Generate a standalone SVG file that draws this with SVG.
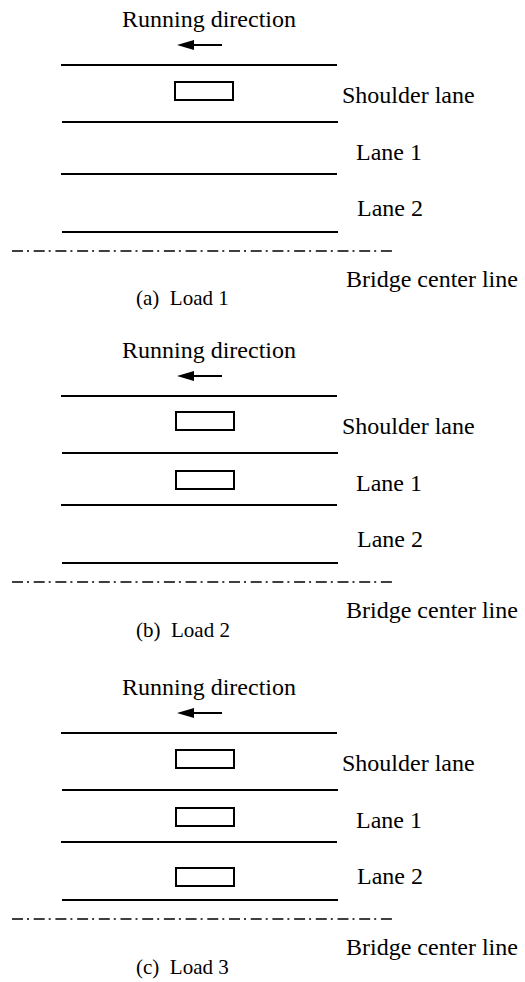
<svg xmlns="http://www.w3.org/2000/svg" width="525" height="982" viewBox="0 0 525 982">
  <style>
    .lbl { font-family: "Liberation Serif", "Times New Roman", serif; font-size: 24px; fill: #000; }
    .cap { font-family: "Liberation Serif", "Times New Roman", serif; font-size: 21px; fill: #000; white-space: pre; }
    .edge { stroke: #000; stroke-width: 2; fill: none; }
    .car { stroke: #000; stroke-width: 2; fill: #fff; }
    .axis { stroke: #000; stroke-width: 1.5; fill: none; stroke-dasharray: 11 4 2 4.7; }
  </style>
  <defs>
    <!-- Shared road cross-section: direction label, lane edges, lane labels, centre line -->
    <g id="road">
      <text class="lbl" x="122" y="27">Running direction</text>
      <line x1="222" y1="45" x2="190" y2="45" stroke="#000" stroke-width="2"/>
      <polygon points="177,45 194,40 194,50" fill="#000"/>
      <line class="edge" x1="61" y1="65" x2="337" y2="65"/>
      <line class="edge" x1="62" y1="122" x2="338" y2="122"/>
      <line class="edge" x1="61" y1="174" x2="337" y2="174"/>
      <line class="edge" x1="62" y1="232" x2="338" y2="232"/>
      <line class="axis" x1="12" y1="251" x2="393" y2="251"/>
      <text class="lbl" x="342" y="103">Shoulder lane</text>
      <text class="lbl" x="356" y="160">Lane 1</text>
      <text class="lbl" x="357" y="216">Lane 2</text>
      <text class="lbl" x="346" y="287">Bridge center line</text>
    </g>
  </defs>

  <!-- (a) Load 1 -->
  <g id="load1">
    <use href="#road"/>
    <rect class="car" x="175" y="82" width="58" height="18"/>
    <text class="cap" x="136" y="305">(a)  Load 1</text>
  </g>

  <!-- (b) Load 2 -->
  <g id="load2" transform="translate(0,331)">
    <use href="#road"/>
    <rect class="car" x="176" y="81" width="58" height="18"/>
    <rect class="car" x="176" y="140" width="58" height="18"/>
    <text class="cap" x="136" y="306">(b)  Load 2</text>
  </g>

  <!-- (c) Load 3 -->
  <g id="load3" transform="translate(0,668)">
    <use href="#road"/>
    <rect class="car" x="176" y="82" width="58" height="18"/>
    <rect class="car" x="176" y="140" width="58" height="18"/>
    <rect class="car" x="176" y="200" width="58" height="18"/>
    <text class="cap" x="136" y="306">(c)  Load 3</text>
  </g>
</svg>
